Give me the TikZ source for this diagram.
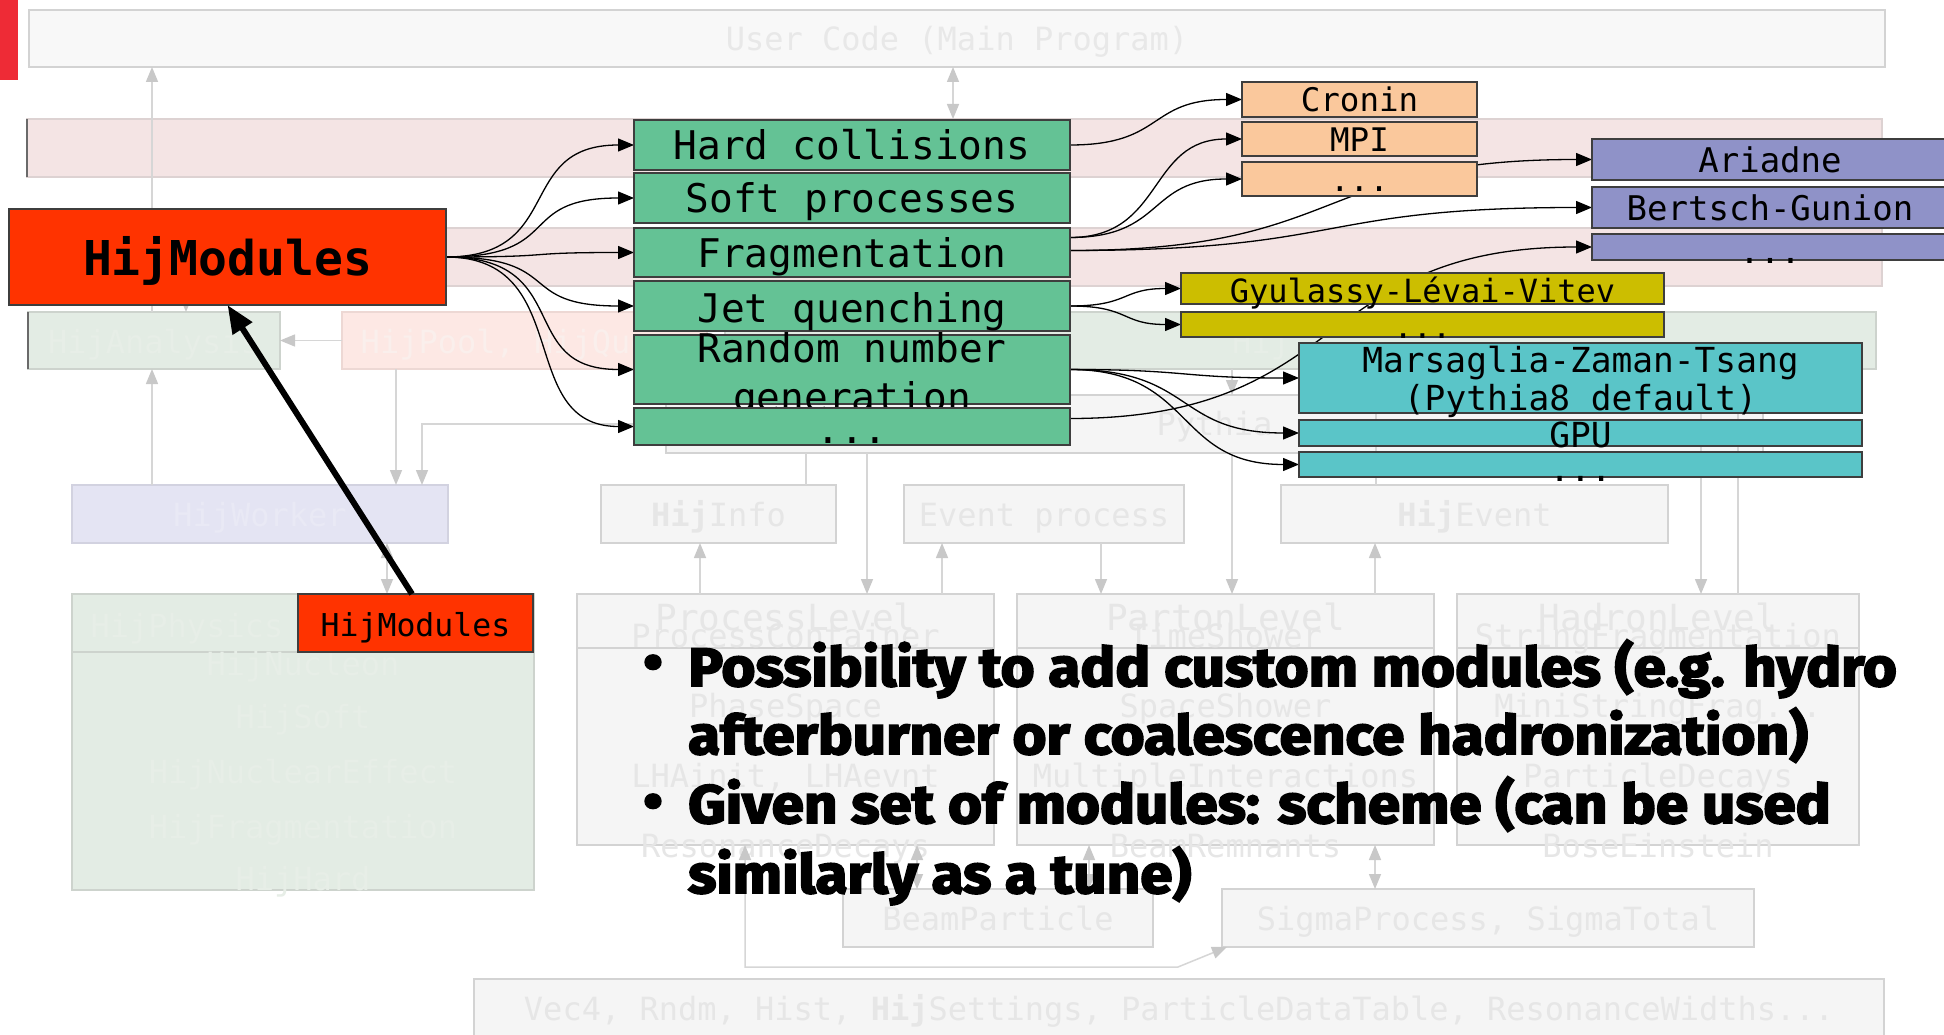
\documentclass[tikz,border=0pt]{standalone}
\usepackage{fontspec}
\setmonofont{DejaVu Sans Mono}
\newfontfamily\bulletfont{Fira Sans}[FakeStretch=1.08,FakeBold=3.5]
\usetikzlibrary{arrows.meta}
\pgfdeclarelayer{fade}
\pgfdeclarelayer{links}
\pgfsetlayers{fade,links,main}

\definecolor{slidered}{HTML}{EE2B36}
\definecolor{hijred}{HTML}{FF3300}
\definecolor{modgreen}{HTML}{64C295}
\definecolor{modorange}{HTML}{FAC89C}
\definecolor{modpurple}{HTML}{8F92C8}
\definecolor{modyellow}{HTML}{CCBE00}
\definecolor{modcyan}{HTML}{5AC5C8}
\definecolor{edgedark}{HTML}{3E3E3E}
\definecolor{fadefill}{HTML}{F5F5F5}
\definecolor{fadeedge}{HTML}{D3D3D3}
\definecolor{fadetext}{HTML}{E6E6E6}
\definecolor{ucfill}{HTML}{F8F8F8}
\definecolor{uctext}{HTML}{E8E8E8}
\definecolor{pinkfill}{HTML}{F4E4E4}
\definecolor{bandedge}{HTML}{DDD2D2}
\definecolor{sagefill}{HTML}{E3ECE4}
\definecolor{sageedge}{HTML}{CDD3CD}
\definecolor{sagetext}{HTML}{E7EEE7}
\definecolor{poolfill}{HTML}{FDE8E4}
\definecolor{pooledge}{HTML}{EDD8D4}
\definecolor{pooltext}{HTML}{FAEFEC}
\definecolor{lavfill}{HTML}{E4E4F3}
\definecolor{lavedge}{HTML}{D2D2E0}
\definecolor{lavtext}{HTML}{E9E9F5}
\definecolor{fadeline}{HTML}{D6D6D6}
\definecolor{fadetip}{HTML}{C8C8C8}
\definecolor{leftedge}{HTML}{6A6A6A}

\newcommand\fz[1]{\fontsize{#1pt}{#1pt}\selectfont}
% box from (x1,y1) to (x2,y2), label set on a given baseline
\newcommand\boxat[9]{%
  \pgfmathsetmacro\bxW{#6-#4}%
  \pgfmathsetmacro\bxH{#7-#5}%
  \pgfmathsetmacro\bxC{(#4+#6)/2}%
  \node[#1, minimum width=\bxW pt, minimum height=\bxH pt] (#3) at (#4,#5) {};%
  \node[#2, anchor=base] (#3-t) at (\bxC,#8) {#9};%
}

\begin{document}
\begin{tikzpicture}[x=1pt, y=-1pt,
  panel/.style={inner sep=0pt, outer sep=0pt, anchor=north west, line width=1.5pt},
  fbox/.style={panel, draw=fadeedge, fill=fadefill},
  mbox/.style={panel, draw=edgedark, line width=1.6pt},
  ftxt/.style={inner sep=0pt, text=fadetext, font=\ttfamily\fz{32}},
  ttitle/.style={ftxt, font=\ttfamily\fz{36}},
  gtxt/.style={inner sep=0pt, font=\ttfamily\fz{39.5}},
  otxt/.style={inner sep=0pt, font=\ttfamily\fz{32.5}},
  ptxt/.style={inner sep=0pt, font=\ttfamily\fz{34}},
  ytxt/.style={inner sep=0pt, font=\ttfamily\fz{32}},
  ctxt/.style={inner sep=0pt, font=\ttfamily\fz{34.5}},
  fline/.style={draw=fadeline, line width=1.5pt, >={Triangle[length=15pt,width=12pt,color=fadetip]}},
  divider/.style={draw=fadeedge, line width=1.5pt},
  conn/.style={draw=black, line width=1.3pt, -{Triangle[length=16pt,width=13pt]}},
  bigarrow/.style={draw=black, line width=6pt, -{Triangle[length=28pt,width=22pt]}},
  btxt/.style={inner sep=0pt, anchor=base west, font=\bulletfont\bfseries\fz{54}},
  bdot/.style={inner sep=0pt, anchor=base, font=\bulletfont\bfseries\fz{52}}
]
\useasboundingbox (0,0) rectangle (1944,1035);
\clip (0,0) rectangle (1944,1035);

% ---------------- faded structure ----------------
\begin{pgfonlayer}{fade}
\fill[white] (0,0) rectangle (1944,1035);
\fill[slidered] (0,0) rectangle (18,80);

\boxat{fbox, fill=ucfill}{ftxt, text=uctext}{ucode}{29}{10}{1885}{67}{51}{User Code (Main Program)}
\boxat{panel, draw=bandedge, fill=pinkfill}{ftxt}{band1}{27}{119}{1882}{177}{160}{}
\boxat{panel, draw=bandedge, fill=pinkfill}{ftxt}{band2}{27}{228}{1882}{286}{270}{}
\boxat{panel, draw=sageedge, fill=sagefill}{ftxt, text=sagetext}{hana}{28}{312}{280}{369}{353}{HijAnalysis}
\boxat{panel, draw=pooledge, fill=poolfill}{ftxt, text=pooltext}{pool}{342}{312}{707}{369}{353}{HijPool, HijQueue}
\boxat{panel, draw=sageedge, fill=sagefill}{ftxt}{sage}{725}{312}{1876}{369}{353}{}
\node[ftxt, text=sagetext, anchor=base west] (sage-t2) at (1232,353) {Hij};
\draw[leftedge, line width=2pt] (band1.north west) -- (band1.south west);
\draw[leftedge, line width=2pt] (hana.north west) -- (hana.south west);

\boxat{fbox}{ftxt}{pythia}{666}{395}{1763}{453}{435}{Pythia}
\boxat{panel, draw=lavedge, fill=lavfill}{ftxt, text=lavtext}{hwork}{72}{485}{448}{543}{526}{HijWorker}
\boxat{fbox}{ftxt}{hinfo}{601}{485}{836}{543}{526}{\textbf{Hij}Info}
\boxat{fbox}{ftxt}{evp}{904}{485}{1184}{543}{526}{Event process}
\boxat{fbox}{ftxt}{hevent}{1281}{485}{1668}{543}{526}{\textbf{Hij}Event}

% physics container
\boxat{panel, draw=sageedge, fill=sagefill}{ftxt}{hphys}{72}{594}{534}{890}{620}{}
\draw[draw=sageedge, line width=1.5pt] ([yshift=-58pt]hphys.north west) -- ([yshift=-58pt]hphys.north east);
\node[ftxt, text=sagetext, anchor=base] (hp0) at (187,637) {HijPhysics};
\node[ftxt, text=sagetext, anchor=base] (hp1) at (303,675) {HijNucleon};
\node[ftxt, text=sagetext, anchor=base] (hp2) at (303,728) {HijSoft};
\node[ftxt, text=sagetext, anchor=base] (hp3) at (303,783) {HijNuclearEffect};
\node[ftxt, text=sagetext, anchor=base] (hp4) at (303,838) {HijFragmentation};
\node[ftxt, text=sagetext, anchor=base] (hp5) at (303,890) {HijHard};

% levels
\boxat{fbox}{ttitle}{plev}{577}{594}{994}{845}{630}{ProcessLevel}
\boxat{fbox}{ttitle}{partl}{1017}{594}{1434}{845}{630}{PartonLevel}
\boxat{fbox}{ttitle}{hadl}{1457}{594}{1859}{845}{630}{HadronLevel}
\foreach \lv in {plev,partl,hadl}
  \draw[divider] ([yshift=-54pt]\lv.north west) -- ([yshift=-54pt]\lv.north east);
\node[ftxt, anchor=base] (pl1) at (785.5,647) {ProcessContainer};
\node[ftxt, anchor=base] (pl2) at (785.5,717) {PhaseSpace};
\node[ftxt, anchor=base] (pl3) at (785.5,787) {LHAinit, LHAevnt};
\node[ftxt, anchor=base] (pl4) at (785.5,857) {ResonanceDecays};
\node[ftxt, anchor=base] (pa1) at (1225.5,647) {TimeShower};
\node[ftxt, anchor=base] (pa2) at (1225.5,717) {SpaceShower};
\node[ftxt, anchor=base] (pa3) at (1225.5,787) {MultipleInteractions};
\node[ftxt, anchor=base] (pa4) at (1225.5,857) {BeamRemnants};
\node[ftxt, anchor=base] (ha1) at (1658,647) {StringFragmentation};
\node[ftxt, anchor=base] (ha2) at (1658,717) {MiniStringFrag...};
\node[ftxt, anchor=base] (ha3) at (1658,787) {ParticleDecays};
\node[ftxt, anchor=base] (ha4) at (1658,857) {BoseEinstein};

\boxat{fbox}{ftxt}{beam}{843}{889}{1153}{947}{930}{BeamParticle}
\boxat{fbox}{ftxt}{sigma}{1222}{889}{1754}{947}{930}{SigmaProcess, SigmaTotal}
\boxat{fbox}{ftxt}{util}{474}{979}{1884}{1050}{1020}{Vec4, Rndm, Hist, \textbf{Hij}Settings, ParticleDataTable, ResonanceWidths...}

% column positions of the faded links
\foreach \cx in {152,186,387,396,422,700,745,806,867,917,942,953,1089,1101,1232,1375,1376,1701,1738}
  \coordinate (x\cx) at (\cx,0);
\coordinate (bend1) at (745,967);
\coordinate (bend2) at (1178,967);

\draw[fline, ->] (x152 |- hana.north) -- (x152 |- ucode.south);
\draw[fline, <->] (x953 |- ucode.south) -- (x953 |- band1.north);
\draw[fline, ->] (x152 |- hwork.north) -- (x152 |- hana.south);
\draw[fline, ->] (x186 |- band2.south) -- (x186 |- hana.north);
\draw[fline, ->] (pool.west) -- (hana.east);
\draw[fline, ->] (x396 |- pool.south) -- (x396 |- hwork.north);
\draw[fline, ->] (pythia.west) -| (x422 |- hwork.north);
\draw[fline, <->] (x387 |- hwork.south) -- (x387 |- hphys.north);
\draw[fline] (x806 |- pythia.south) -- (x806 |- hinfo.north);
\draw[fline, ->] (x700 |- plev.north) -- (x700 |- hinfo.south);
\draw[fline, ->] (x867 |- pythia.south) -- (x867 |- plev.north);
\draw[fline, ->] (x942 |- plev.north) -- (x942 |- evp.south);
\draw[fline, ->] (x1101 |- evp.south) -- (x1101 |- partl.north);
\draw[fline, ->] (x1232 |- pythia.south) -- (x1232 |- partl.north);
\draw[fline, ->] (x1232 |- sage.south) -- (x1232 |- pythia.north);
\draw[fline] (x1376 |- sage.south) -- (x1376 |- hevent.north);
\draw[fline, ->] (x1375 |- partl.north) -- (x1375 |- hevent.south);
\draw[fline, ->] (x1701 |- sage.south) -- (x1701 |- hadl.north);
\draw[fline] (x1738 |- sage.south) -- (x1738 |- hadl.north);
\draw[fline, <->] (x745 |- plev.south) -- (bend1) -- (bend2) -- ([xshift=5pt]sigma.south west);
\draw[fline, <->] (x917 |- plev.south) -- (x917 |- beam.north);
\draw[fline, <->] (x1089 |- partl.south) -- (x1089 |- beam.north);
\draw[fline, <->] (x1375 |- partl.south) -- (x1375 |- sigma.north);
\end{pgfonlayer}

% ---------------- module boxes ----------------
\boxat{mbox, fill=hijred}{inner sep=0pt, font=\ttfamily\bfseries\fz{48}}{hm}{9}{209}{446}{305}{276}{HijModules}

\boxat{mbox, fill=modgreen}{gtxt}{hard}{634}{120}{1070}{170}{160}{Hard collisions}
\boxat{mbox, fill=modgreen}{gtxt}{soft}{634}{173}{1070}{223}{213}{Soft processes}
\boxat{mbox, fill=modgreen}{gtxt}{frag}{634}{228}{1070}{277}{268}{Fragmentation}
\boxat{mbox, fill=modgreen}{gtxt}{jet}{634}{281}{1070}{331}{322}{Jet quenching}
\boxat{mbox, fill=modgreen}{gtxt}{random}{634}{335}{1070}{404}{362}{Random number}
\node[gtxt, anchor=base] (random-t2) at (852,411) {generation};
\boxat{mbox, fill=modgreen}{gtxt}{gdots}{634}{408}{1070}{445}{443}{...}

\boxat{mbox, fill=modorange}{otxt}{cronin}{1242}{82}{1477}{117}{112}{Cronin}
\boxat{mbox, fill=modorange}{otxt}{mpi}{1242}{122}{1477}{156}{152}{MPI}
\boxat{mbox, fill=modorange}{otxt}{odots}{1242}{162}{1477}{196}{192}{...}

\boxat{mbox, fill=modpurple}{ptxt}{ariadne}{1592}{139}{1948}{180}{173}{Ariadne}
\boxat{mbox, fill=modpurple}{ptxt}{bertsch}{1592}{187}{1948}{228}{221}{Bertsch-Gunion}
\boxat{mbox, fill=modpurple}{ptxt}{pdots}{1592}{234}{1948}{260}{263}{...}

\boxat{mbox, fill=modyellow}{ytxt}{glv}{1181}{273}{1664}{304}{302}{Gyulassy-Lévai-Vitev}
\boxat{mbox, fill=modyellow}{ytxt}{ydots}{1181}{312}{1664}{337}{338}{...}

\boxat{mbox, fill=modcyan}{ctxt}{mzt}{1299}{343}{1862}{413}{372}{Marsaglia-Zaman-Tsang}
\node[ctxt, anchor=base] (mzt-t2) at (1580.5,410) {(Pythia8 default)};
\boxat{mbox, fill=modcyan}{ctxt}{gpu}{1299}{420}{1862}{446}{447}{GPU}
\boxat{mbox, fill=modcyan}{ctxt}{cdots}{1299}{452}{1862}{477}{481}{...}

\boxat{mbox, fill=hijred}{inner sep=0pt, font=\ttfamily\fz{31.5}}{hmsmall}{298}{594}{533}{652}{636}{HijModules}

% ---------------- module links ----------------
\begin{pgfonlayer}{links}
\draw[conn] (hm.east) .. controls +(120,0) and +(-120,0) .. (hard.west);
\draw[conn] (hm.east) .. controls +(120,0) and +(-120,0) .. (soft.west);
\draw[conn] (hm.east) .. controls +(120,0) and +(-120,0) .. (frag.west);
\draw[conn] (hm.east) .. controls +(120,0) and +(-120,0) .. (jet.west);
\draw[conn] (hm.east) .. controls +(130,0) and +(-120,0) .. (random.west);
\draw[conn] (hm.east) .. controls +(130,0) and +(-120,0) .. (gdots.west);

\draw[conn] (hard.east) .. controls +(95,0) and +(-95,0) .. (cronin.west);
\draw[conn] ([yshift=15pt]frag.east) .. controls +(95,0) and +(-95,0) .. (mpi.west);
\draw[conn] ([yshift=15pt]frag.east) .. controls +(95,0) and +(-95,0) .. (odots.west);
\draw[conn] ([yshift=2pt]frag.east) .. controls +(280,0) and +(-280,0) .. (ariadne.west);
\draw[conn] ([yshift=2pt]frag.east) .. controls +(280,0) and +(-280,0) .. (bertsch.west);
\draw[conn] (jet.east) .. controls +(60,0) and +(-60,0) .. (glv.west);
\draw[conn] (jet.east) .. controls +(60,0) and +(-60,0) .. (ydots.west);
\draw[conn] (random.east) .. controls +(120,0) and +(-120,0) .. (mzt.west);
\draw[conn] (random.east) .. controls +(125,0) and +(-125,0) .. (gpu.west);
\draw[conn] (random.east) .. controls +(125,0) and +(-125,0) .. (cdots.west);
\draw[conn] ([yshift=8pt]gdots.east) .. controls +(280,0) and +(-280,0) .. (pdots.west);
\end{pgfonlayer}

\draw[bigarrow] ([xshift=114pt]hmsmall.north west) -- (hm.south);

% ---------------- bullet text ----------------
\node[bdot] (b1) at (653,680) {•};
\node[btxt] (l1) at (688,686) {Possibility to add custom modules (e.g. hydro};
\node[btxt] (l2) at (688,754) {afterburner or coalescence hadronization)};
\node[bdot] (b2) at (653,819) {•};
\node[btxt] (l3) at (688,823) {Given set of modules: scheme (can be used};
\node[btxt] (l4) at (688,893) {similarly as a tune)};
\end{tikzpicture}
\end{document}
